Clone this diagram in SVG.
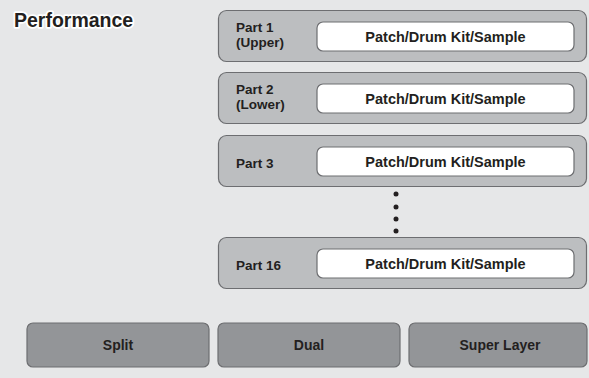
<svg xmlns="http://www.w3.org/2000/svg" width="589" height="378" viewBox="0 0 589 378">
<style>
text{font-family:"Liberation Sans",Arial,sans-serif;font-weight:bold;fill:#231f20}
.part{fill:#bcbec0;stroke:#6d6e71;stroke-width:1.2}
.slot{fill:#ffffff;stroke:#6d6e71;stroke-width:1.2}
.btn{fill:#939598;stroke:#6d6e71;stroke-width:1.2}
.lbl{font-size:13.5px}
.slt{font-size:14.5px;text-anchor:middle}
.bt{font-size:14px;text-anchor:middle}
.title{font-size:19.5px;stroke:#ffffff;stroke-width:3.5;stroke-linejoin:round;paint-order:stroke}
.dot{fill:#231f20}
</style>
<rect x="0" y="0" width="589" height="378" fill="#e6e7e8"/>
<text id="title" class="title" x="14" y="27">Performance</text>
<g id="part1">
<rect class="part" x="218.5" y="10.5" width="368" height="51" rx="8"/>
<rect class="slot" x="317" y="22" width="257" height="29" rx="6"/>
<text class="lbl" x="236" y="32">Part 1</text>
<text class="lbl" x="236" y="47">(Upper)</text>
<text class="slt" x="445.5" y="41.7">Patch/Drum Kit/Sample</text>
</g>
<g id="part2">
<rect class="part" x="218.5" y="72.5" width="368" height="51" rx="8"/>
<rect class="slot" x="317" y="84" width="257" height="29" rx="6"/>
<text class="lbl" x="236" y="94">Part 2</text>
<text class="lbl" x="236" y="109">(Lower)</text>
<text class="slt" x="445.5" y="103.7">Patch/Drum Kit/Sample</text>
</g>
<g id="part3">
<rect class="part" x="218.5" y="135.5" width="368" height="51" rx="8"/>
<rect class="slot" x="317" y="147" width="257" height="29" rx="6"/>
<text class="lbl" x="236" y="167.5">Part 3</text>
<text class="slt" x="445.5" y="166.7">Patch/Drum Kit/Sample</text>
</g>
<g id="ellipsis">
<circle class="dot" cx="396" cy="194" r="2.5"/>
<circle class="dot" cx="396" cy="207" r="2.5"/>
<circle class="dot" cx="396" cy="219" r="2.5"/>
<circle class="dot" cx="396" cy="231" r="2.5"/>
</g>
<g id="part16">
<rect class="part" x="218.5" y="237.5" width="368" height="51" rx="8"/>
<rect class="slot" x="317" y="249" width="257" height="29" rx="6"/>
<text class="lbl" x="236" y="269.5">Part 16</text>
<text class="slt" x="445.5" y="268.7">Patch/Drum Kit/Sample</text>
</g>
<g id="split">
<rect class="btn" x="27" y="323" width="182" height="44" rx="6"/>
<text class="bt" x="118" y="349.5">Split</text>
</g>
<g id="dual">
<rect class="btn" x="218" y="323" width="182" height="44" rx="6"/>
<text class="bt" x="309" y="349.5">Dual</text>
</g>
<g id="superlayer">
<rect class="btn" x="409" y="323" width="178" height="44" rx="6"/>
<text class="bt" x="500" y="349.5">Super Layer</text>
</g>
<g id="connectors"></g>
</svg>
